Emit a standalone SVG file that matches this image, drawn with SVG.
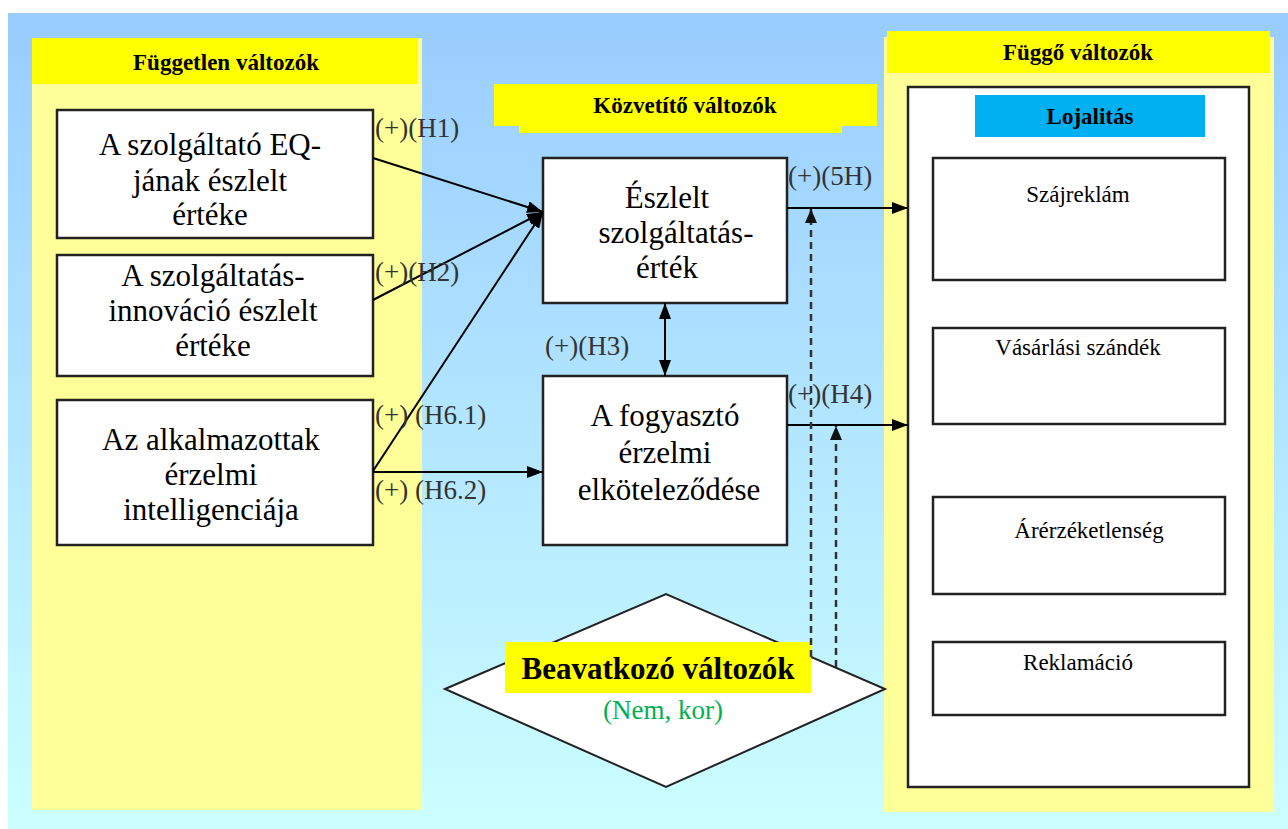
<svg xmlns="http://www.w3.org/2000/svg" width="1288" height="829" viewBox="0 0 1288 829">
<defs>
<linearGradient id="bg" x1="0" y1="0" x2="0" y2="1">
<stop offset="0" stop-color="#99CCFF"/>
<stop offset="1" stop-color="#CCFFFF"/>
</linearGradient>
<marker id="ah" markerUnits="userSpaceOnUse" markerWidth="16" markerHeight="12" refX="16" refY="6" orient="auto-start-reverse">
<path d="M0,0 L16,6 L0,12 Z" fill="#000"/>
</marker>
<marker id="ahd" markerUnits="userSpaceOnUse" markerWidth="14" markerHeight="12" refX="14" refY="6" orient="auto">
<path d="M0,0 L14,6 L0,12 Z" fill="#111"/>
</marker>
<style>
text{font-family:"Liberation Serif","Times New Roman",serif}
.panel{fill:#FFFF99}
.hdr{fill:#FFFF00}
.box{fill:#fff;stroke:#222;stroke-width:2.5}
.btxt{font-size:31px;fill:#000;text-anchor:middle}
.htxt{font-size:23px;font-weight:bold;fill:#000;text-anchor:middle}
.stxt{font-size:23px;fill:#000;text-anchor:middle}
.lbl{font-size:27px;fill:#333}
.ln{stroke:#000;stroke-width:2;fill:none}
.dash{stroke:#333;stroke-width:2.5;fill:none;stroke-dasharray:7 5}
</style>
</defs>
<rect x="0" y="0" width="1288" height="829" fill="#fff"/>
<rect x="8" y="13" width="1280" height="816" fill="url(#bg)"/>

<g id="independent-panel">
<rect class="panel" x="32" y="38" width="390" height="772"/>
<rect class="hdr" x="32" y="38" width="386" height="46"/>
<text class="htxt" x="226" y="70">Független változók</text>
</g>

<g id="mediator-header">
<rect class="hdr" x="519" y="100" width="323" height="33"/>
<rect class="hdr" x="494" y="84" width="383" height="42"/>
<text class="htxt" x="685" y="113">Közvetítő változók</text>
</g>

<g id="dependent-panel">
<rect class="panel" x="884" y="37" width="390" height="775"/>
<rect class="hdr" x="887" y="31" width="383" height="42"/>
<text class="htxt" x="1078" y="60">Függő változók</text>
<rect class="box" x="908" y="87" width="341" height="700"/>
<rect x="975" y="95" width="230" height="42" fill="#00B0F0"/>
<text class="htxt" x="1090" y="124">Lojalitás</text>
</g>

<g id="szajreklam">
<rect class="box" x="933" y="158" width="292" height="122"/>
<text class="stxt" x="1078" y="202">Szájreklám</text>
</g>
<g id="vasarlasi-szandek">
<rect class="box" x="933" y="328" width="292" height="96"/>
<text class="stxt" x="1078" y="355">Vásárlási szándék</text>
</g>
<g id="arerzeketlenseg">
<rect class="box" x="933" y="497" width="292" height="97"/>
<text class="stxt" x="1089" y="538">Árérzéketlenség</text>
</g>
<g id="reklamacio">
<rect class="box" x="933" y="642" width="292" height="73"/>
<text class="stxt" x="1078" y="670">Reklamáció</text>
</g>

<g id="eq-ertek">
<rect class="box" x="57" y="110" width="316" height="128"/>
<text class="btxt" x="210" y="155">A szolgáltató EQ-</text>
<text class="btxt" x="210" y="191">jának észlelt</text>
<text class="btxt" x="210" y="225">értéke</text>
</g>
<g id="innovacio">
<rect class="box" x="57" y="255" width="316" height="121"/>
<text class="btxt" x="213" y="286">A szolgáltatás-</text>
<text class="btxt" x="213" y="321">innováció észlelt</text>
<text class="btxt" x="213" y="356">értéke</text>
</g>
<g id="erzelmi-intelligencia">
<rect class="box" x="57" y="400" width="316" height="145"/>
<text class="btxt" x="211" y="450">Az alkalmazottak</text>
<text class="btxt" x="211" y="485">érzelmi</text>
<text class="btxt" x="211" y="520">intelligenciája</text>
</g>

<g id="eszlelt-ertek">
<rect class="box" x="543" y="158" width="244" height="145"/>
<text class="btxt" x="667" y="208">Észlelt</text>
<text class="btxt" x="676" y="243">szolgáltatás-</text>
<text class="btxt" x="667" y="278">érték</text>
</g>
<g id="fogyaszto-elkotelezodes">
<rect class="box" x="543" y="376" width="244" height="169"/>
<text class="btxt" x="665" y="426">A fogyasztó</text>
<text class="btxt" x="665" y="463">érzelmi</text>
<text class="btxt" x="669" y="500">elköteleződése</text>
</g>

<g id="beavatkozo">
<polygon points="445,689 666,594 885,689 666,787" fill="#fff" stroke="#222" stroke-width="2"/>
<rect class="hdr" x="505" y="642" width="306" height="51"/>
<text x="658" y="679" style="font-size:31px;font-weight:bold;fill:#000;text-anchor:middle">Beavatkozó változók</text>
<text x="663" y="719" style="font-size:27px;fill:#00B050;text-anchor:middle">(Nem, kor)</text>
</g>

<g id="connectors">
<line class="ln" x1="373" y1="158" x2="543" y2="212" marker-end="url(#ah)"/>
<line class="ln" x1="373" y1="300" x2="543" y2="212" marker-end="url(#ah)"/>
<line class="ln" x1="373" y1="471" x2="543" y2="212" marker-end="url(#ah)"/>
<line class="ln" x1="373" y1="472" x2="543" y2="472" marker-end="url(#ah)"/>
<line class="ln" x1="665" y1="303" x2="665" y2="376" marker-start="url(#ah)" marker-end="url(#ah)"/>
<line class="ln" x1="787" y1="208" x2="908" y2="208" marker-end="url(#ah)"/>
<line class="ln" x1="787" y1="425" x2="908" y2="425" marker-end="url(#ah)"/>
<line class="dash" x1="811" y1="657" x2="811" y2="209" marker-end="url(#ahd)"/>
<line class="dash" x1="836" y1="667" x2="836" y2="426" marker-end="url(#ahd)"/>
<text class="lbl" x="375" y="137">(+)(H1)</text>
<text class="lbl" x="375" y="281">(+)(H2)</text>
<text class="lbl" x="375" y="424">(+) (H6.1)</text>
<text class="lbl" x="375" y="499">(+) (H6.2)</text>
<text class="lbl" x="545" y="355">(+)(H3)</text>
<text class="lbl" x="788" y="185">(+)(5H)</text>
<text class="lbl" x="788" y="403">(+)(H4)</text>
</g>
</svg>
